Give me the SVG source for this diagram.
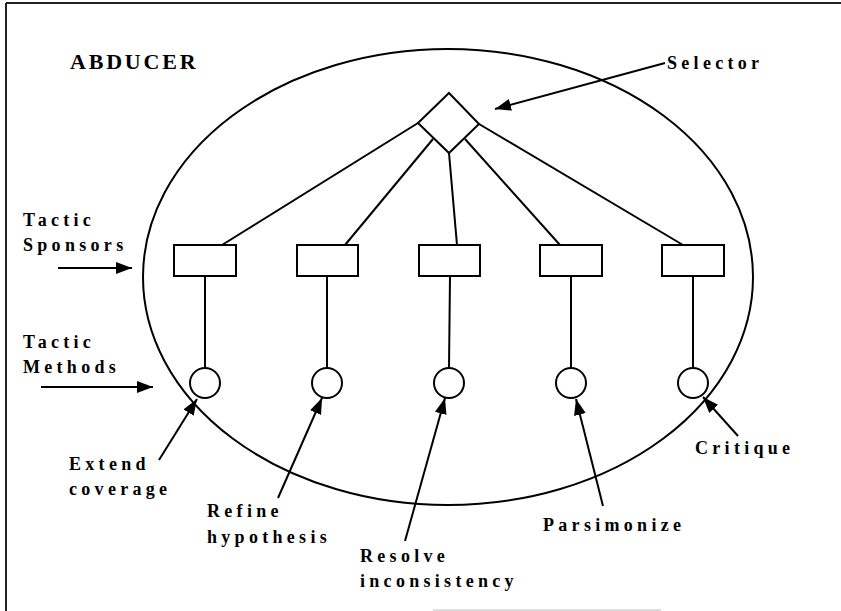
<svg xmlns="http://www.w3.org/2000/svg" width="841" height="611" viewBox="0 0 841 611">
<defs>
<style>
.ln{stroke:#000;stroke-width:2;fill:none}
.box{stroke:#000;stroke-width:2;fill:#fff}
.lbl{font-family:"Liberation Serif","Times New Roman",serif;font-weight:bold;font-size:18px;letter-spacing:4.3px;fill:#000}
.title{font-family:"Liberation Serif","Times New Roman",serif;font-weight:bold;font-size:22px;letter-spacing:2.8px;fill:#000}
.arr{stroke:#000;stroke-width:2;fill:none;marker-end:url(#ah)}
</style>
<marker id="ah" markerUnits="userSpaceOnUse" markerWidth="17" markerHeight="12" refX="16" refY="6" orient="auto">
<path d="M0,0 L16,6 L0,12 z" fill="#000"/>
</marker>
</defs>
<rect width="841" height="611" fill="#fff"/>
<g id="frame">
<line x1="6" y1="3" x2="841" y2="3" stroke="#222" stroke-width="2"/>
<line x1="6" y1="3" x2="6" y2="611" stroke="#222" stroke-width="2"/>
<line x1="433" y1="610" x2="661" y2="610" stroke="#bbb" stroke-width="1"/>
</g>
<g id="abducer">
<ellipse cx="448" cy="277" rx="305" ry="228" class="ln"/>
<text x="70" y="69" class="title">ABDUCER</text>
</g>
<g id="connectors">
<line x1="418" y1="123" x2="222" y2="245" class="ln"/>
<line x1="433" y1="139" x2="345" y2="245" class="ln"/>
<line x1="449" y1="153" x2="457" y2="245" class="ln"/>
<line x1="465" y1="139" x2="560" y2="245" class="ln"/>
<line x1="479" y1="124" x2="683" y2="245" class="ln"/>
<line x1="205" y1="276" x2="205" y2="368" class="ln"/>
<line x1="327" y1="276" x2="327" y2="368" class="ln"/>
<line x1="450" y1="276" x2="449" y2="368" class="ln"/>
<line x1="571" y1="276" x2="571" y2="368" class="ln"/>
<line x1="693" y1="276" x2="693" y2="368" class="ln"/>
<line x1="665" y1="63" x2="495" y2="109" class="arr"/>
<line x1="58" y1="268" x2="132" y2="268" class="arr"/>
<line x1="41" y1="387" x2="153" y2="387" class="arr"/>
<line x1="159" y1="460" x2="197" y2="399" class="arr"/>
<line x1="278" y1="498" x2="322" y2="398" class="arr"/>
<line x1="405" y1="541" x2="445" y2="398" class="arr"/>
<line x1="603" y1="506" x2="576" y2="399" class="arr"/>
<line x1="738" y1="436" x2="703" y2="397" class="arr"/>
</g>
<g id="selector">
<path d="M449,93 L479,124 L449,153 L418,123 Z" class="box"/>
<text x="667" y="69" class="lbl">Selector</text>
</g>
<g id="sponsor1"><rect x="174" y="245" width="62" height="31" class="box"/></g>
<g id="sponsor2"><rect x="297" y="245" width="61" height="31" class="box"/></g>
<g id="sponsor3"><rect x="419" y="245" width="61" height="31" class="box"/></g>
<g id="sponsor4"><rect x="540" y="245" width="62" height="31" class="box"/></g>
<g id="sponsor5"><rect x="662" y="245" width="62" height="31" class="box"/></g>
<g id="method1"><circle cx="205" cy="383" r="15" class="box"/></g>
<g id="method2"><circle cx="327" cy="383" r="15" class="box"/></g>
<g id="method3"><circle cx="449" cy="383" r="15" class="box"/></g>
<g id="method4"><circle cx="571" cy="383" r="15" class="box"/></g>
<g id="method5"><circle cx="693" cy="383" r="15" class="box"/></g>
<g id="labels">
<text x="23" y="226" class="lbl">Tactic</text>
<text x="23" y="251" class="lbl">Sponsors</text>
<text x="23" y="348" class="lbl">Tactic</text>
<text x="23" y="373" class="lbl">Methods</text>
<text x="69" y="470" class="lbl">Extend</text>
<text x="69" y="495" class="lbl">coverage</text>
<text x="207" y="517" class="lbl">Refine</text>
<text x="207" y="543" class="lbl">hypothesis</text>
<text x="360" y="562" class="lbl">Resolve</text>
<text x="360" y="587" class="lbl">inconsistency</text>
<text x="543" y="531" class="lbl">Parsimonize</text>
<text x="695" y="454" class="lbl">Critique</text>
</g>
</svg>
